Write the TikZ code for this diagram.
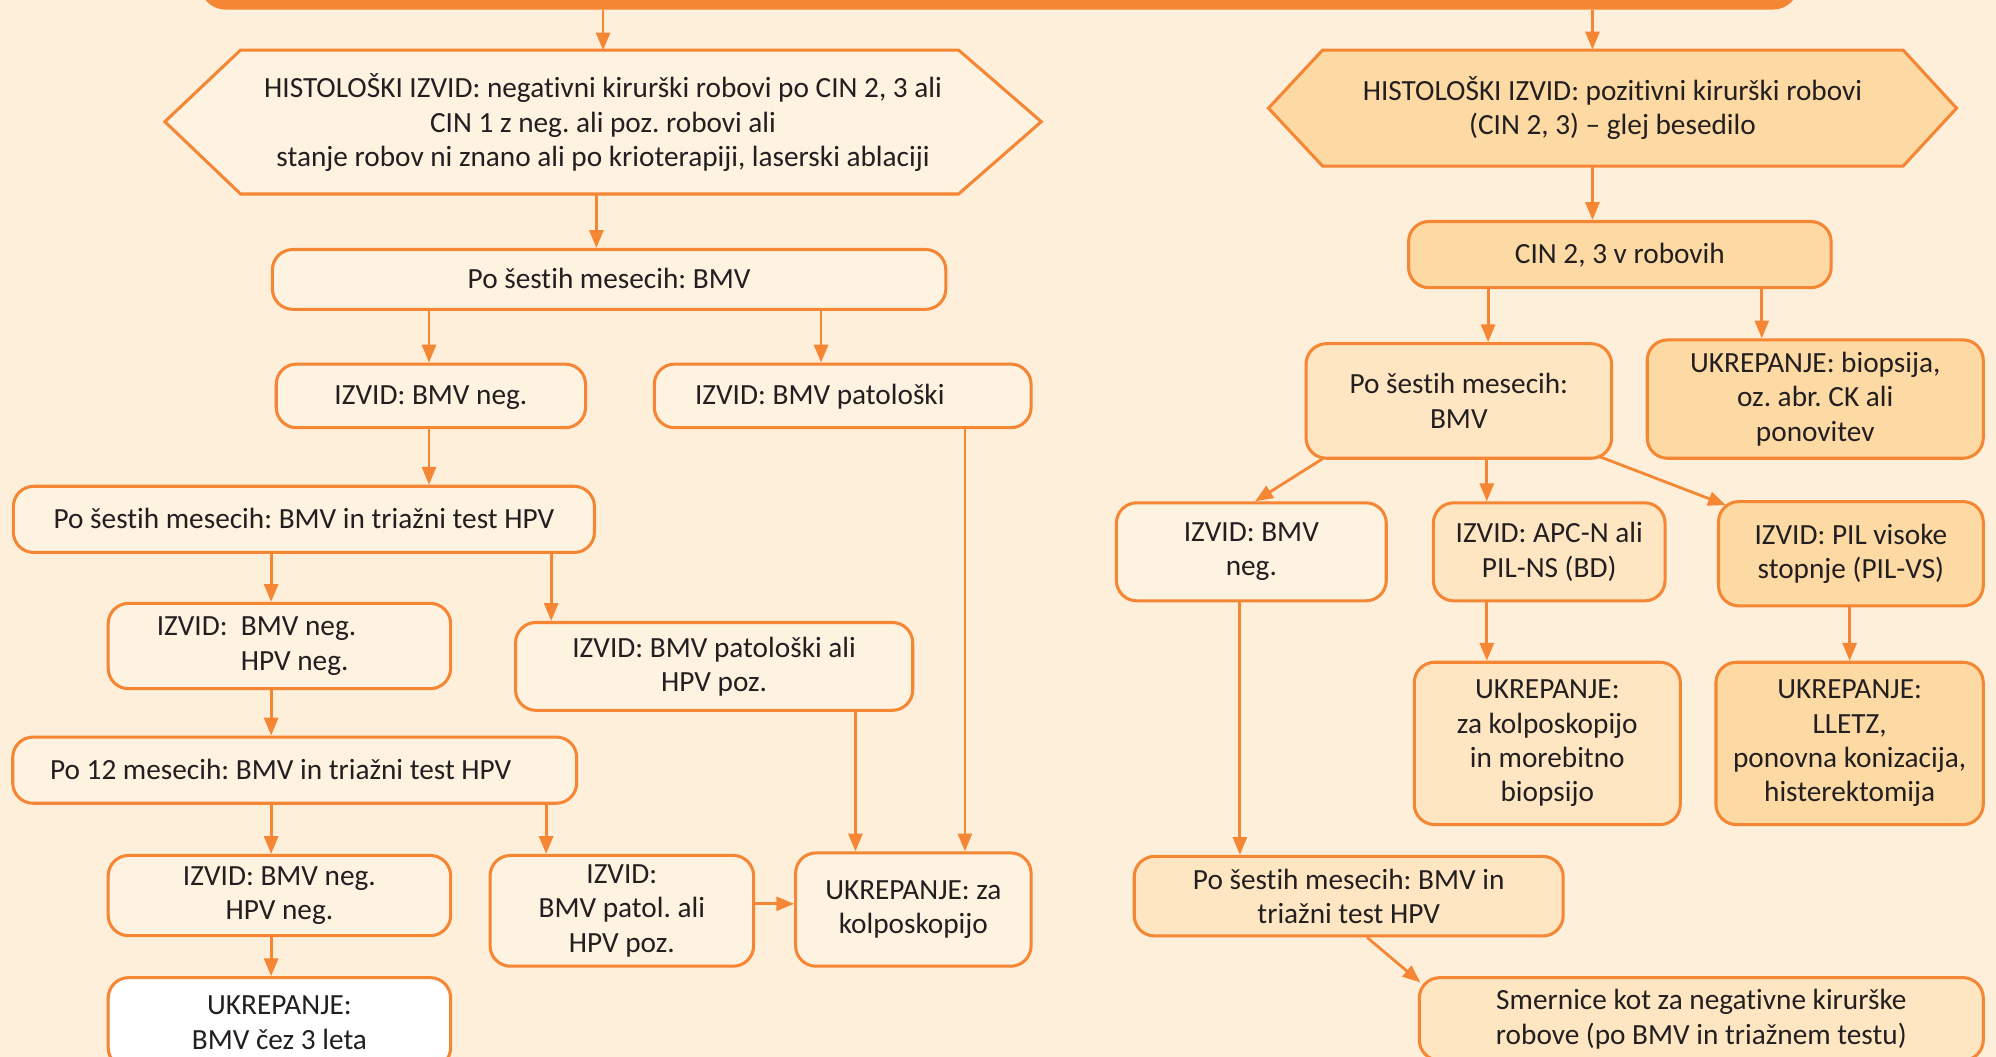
\documentclass[tikz,border=0pt]{standalone}
\usepackage{fontspec}
\setmainfont{Carlito}[Ligatures=NoCommon]
\usetikzlibrary{arrows.meta,calc}
\definecolor{bg}{HTML}{FEEFDA}
\definecolor{org}{HTML}{F58634}
\definecolor{cr}{HTML}{FEF2E0}
\definecolor{lp}{HTML}{FFE6C3}
\definecolor{dp}{HTML}{FDD9A3}
\definecolor{txt}{HTML}{231F20}
\begin{document}
\frenchspacing
\begin{tikzpicture}[x=0.5pt,y=-0.5pt,
  every node/.style={font=\fontsize{11.5}{13.5}\selectfont, text=txt},
  box/.style={draw=org, line width=1.2pt, rounded corners=8pt, inner sep=0pt, align=center},
  crbox/.style={box, fill=cr},
  lpbox/.style={box, fill=lp},
  dpbox/.style={box, fill=dp},
  whbox/.style={box, fill=white},
  oneline/.style={text height=7pt, text depth=0pt},
  hexa/.style={draw=org, line width=1.2pt, line join=miter},
  arr/.style={draw=org, line width=1.1pt, -{Triangle[length=7pt,width=5.5pt]}}]
\useasboundingbox (0,0) rectangle (1568,830);
\clip (0,0) rectangle (1568,830);
\fill[bg] (0,0) rectangle (1568,830);

% top bar
\node[fill=org, rounded corners=10pt, inner sep=0pt, minimum width=628pt, minimum height=23.75pt] (bar) at (785,-16.25) {};

% hexagons
\filldraw[hexa, fill=cr] (129.5,95.6) -- (189,39.3) -- (753,39.3) -- (818,95.6) -- (753,152.4) -- (189,152.4) -- cycle;
\node[inner sep=0pt, align=center, minimum width=344.25pt, minimum height=56.55pt] (h1) at (473.75,96.5)
  {HISTOLOŠKI IZVID: negativni kirurški robovi po CIN 2, 3 ali\\CIN 1 z neg. ali poz. robovi ali\\stanje robov ni znano ali po krioterapiji, laserski ablaciji};
\filldraw[hexa, fill=dp] (996.5,85) -- (1039,39.3) -- (1495,39.3) -- (1537,85) -- (1495,130.5) -- (1039,130.5) -- cycle;
\node[inner sep=0pt, align=center, minimum width=270.25pt, minimum height=45.6pt] (h2) at (1266.75,84.9)
  {HISTOLOŠKI IZVID: pozitivni kirurški robovi\\(CIN 2, 3) – glej besedilo};

% left column
\node[crbox, oneline, minimum width=264.5pt, minimum height=23.5pt] (b1) at (478.5,219.5) {Po šestih mesecih: BMV};
\node[crbox, oneline, minimum width=121.5pt, minimum height=25pt] (b2) at (338.5,311) {IZVID: BMV neg.};
\node[crbox, oneline, minimum width=148pt, minimum height=25pt] (b3) at (662,311) {IZVID: BMV patološki\hspace*{18pt}};
\node[crbox, oneline, minimum width=228.25pt, minimum height=26pt] (b4) at (238.75,408) {Po šestih mesecih: BMV in triažni test HPV};
\node[crbox, minimum width=134.5pt, minimum height=33.5pt, align=left] (b5) at (219.5,507.5) {IZVID:\ \ BMV neg.\hspace*{18pt}\\\hphantom{IZVID:\ \ }HPV neg.};
\node[crbox, minimum width=156pt, minimum height=34.5pt] (b6) at (561,523.5) {IZVID: BMV patološki ali\\HPV poz.};
\node[crbox, oneline, minimum width=221.5pt, minimum height=26pt] (b7) at (231.5,605) {Po 12 mesecih: BMV in triažni test HPV\hspace*{11pt}};
\node[crbox, minimum width=134.5pt, minimum height=31.5pt] (b8) at (219.5,703.5) {IZVID: BMV neg.\\HPV neg.};
\node[crbox, minimum width=103.5pt, minimum height=43.5pt] (b9) at (488.5,715.5) {IZVID:\\BMV patol. ali\\HPV poz.};
\node[crbox, minimum width=92.5pt, minimum height=44.5pt] (b10) at (717.5,714.5) {UKREPANJE: za\\kolposkopijo};
\node[whbox, minimum width=134.5pt, minimum height=35.5pt] (b11) at (219.5,803.5) {UKREPANJE:\\BMV čez 3 leta};

% right column
\node[dpbox, oneline, minimum width=166pt, minimum height=26pt] (c1) at (1272.5,200) {CIN 2, 3 v robovih};
\node[lpbox, minimum width=120pt, minimum height=45pt] (c2) at (1146,315) {Po šestih mesecih:\\BMV};
\node[dpbox, minimum width=132pt, minimum height=46.5pt] (c3) at (1426,313.5) {UKREPANJE: biopsija,\\oz. abr. CK ali\\ponovitev};
\node[crbox, minimum width=106pt, minimum height=38.5pt] (c4) at (983,433.5) {IZVID: BMV\\neg.};
\node[lpbox, minimum width=91pt, minimum height=38.5pt] (c5) at (1217,433.5) {IZVID: APC-N ali\\PIL-NS (BD)};
\node[dpbox, minimum width=104pt, minimum height=41pt] (c6) at (1454,435) {IZVID: PIL visoke\\stopnje (PIL-VS)};
\node[lpbox, minimum width=104.5pt, minimum height=63.75pt] (c7) at (1215.5,584) {UKREPANJE:\\za kolposkopijo\\in morebitno\\biopsijo};
\node[dpbox, minimum width=105pt, minimum height=63.75pt] (c8) at (1453,584) {UKREPANJE:\\LLETZ,\\ponovna konizacija,\\histerektomija};
\node[lpbox, minimum width=168.5pt, minimum height=31.25pt] (c9) at (1059.5,704) {Po šestih mesecih: BMV in\\triažni test HPV};
\node[lpbox, minimum width=221.5pt, minimum height=32.5pt] (c10) at (1336.5,800.5) {Smernice kot za negativne kirurške\\robove (po BMV in triažnem testu)};

% connectors left
\draw[arr] (bar.south -| h1.north) -- (h1.north);
\draw[arr] (468.5,0 |- h1.south) -- (468.5,0 |- b1.north);
\draw[arr] (337,0 |- b1.south) -- (337,0 |- b2.north);
\draw[arr] (645,0 |- b1.south) -- (645,0 |- b3.north);
\draw[arr] (337,0 |- b2.south) -- (337,0 |- b4.north);
\draw[arr] (213,0 |- b4.south) -- (213,0 |- b5.north);
\draw[arr] (433,0 |- b4.south) -- (433,0 |- b6.north);
\draw[arr] (213,0 |- b5.south) -- (213,0 |- b7.north);
\draw[arr] (213,0 |- b7.south) -- (213,0 |- b8.north);
\draw[arr] (429,0 |- b7.south) -- (429,0 |- b9.north);
\draw[arr] (213,0 |- b8.south) -- (213,0 |- b11.north);
\draw[arr] (b9.east |- 0,710) -- (b10.west |- 0,710);
\draw[arr] (672,0 |- b6.south) -- (672,0 |- b10.north);
\draw[arr] (758,0 |- b3.south) -- (758,0 |- b10.north);

% connectors right
\draw[arr] (1251,0 |- bar.south) -- (1251,0 |- h2.north);
\draw[arr] (1251,0 |- h2.south) -- (1251,0 |- c1.north);
\draw[arr] (1169,0 |- c1.south) -- (1169,0 |- c2.north);
\draw[arr] (1384,0 |- c1.south) -- (1384,0 |- c3.north);
\draw[arr] ($(c2.south west)+(14.5,-1)$) -- (986,0 |- c4.north);
\draw[arr] (1168,0 |- c2.south) -- (1168,0 |- c5.north);
\draw[arr] ($(c2.south east)+(-12,-3)$) -- ($(c6.north west)+(7,4)$);
\draw[arr] (1168,0 |- c5.south) -- (1168,0 |- c7.north);
\draw[arr] (1453,0 |- c6.south) -- (1453,0 |- c8.north);
\draw[arr] (974,0 |- c4.south) -- (974,0 |- c9.north);
\draw[arr] ($(c9.south)+(14.5,0)$) -- ($(c10.north west)+(2,5)$);
\end{tikzpicture}
\end{document}
